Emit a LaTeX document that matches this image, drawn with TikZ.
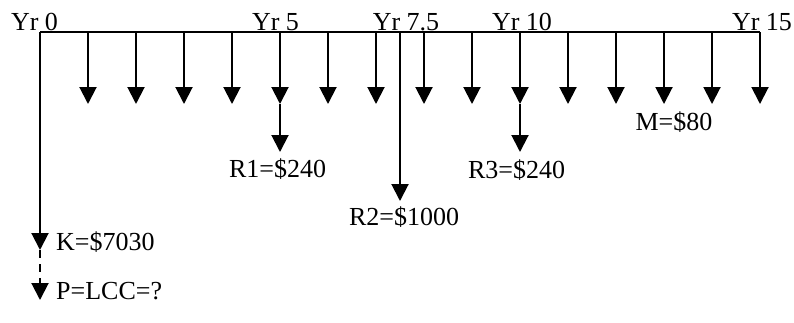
\documentclass[tikz,border=0pt]{standalone}
\usepackage{fontspec}
\setmainfont{Liberation Serif}
\usetikzlibrary{arrows.meta}
\begin{document}
\begin{tikzpicture}[x=1pt,y=-1pt,
  flow/.style={line width=2pt,-{Triangle[width=17pt,length=17pt]}},
  axis/.style={line width=2pt},
  lbl/.style={inner sep=0pt,font=\fontsize{26}{30}\selectfont}]
\useasboundingbox (0,0) rectangle (794,322);

% time axis
\coordinate (y0) at (40,32);
\coordinate (y15) at (760,32);
\draw[axis] (y0) -- (y15);

% yearly maintenance payments
\foreach \k in {1,...,15} {
  \coordinate (top\k) at ({40+48*\k},32);
  \coordinate (m\k) at ({40+48*\k},104);
  \draw[flow] (top\k) -- (m\k);
}

% replacement payments at years 5 and 10
\coordinate (r1) at (280,152);
\coordinate (r3) at (520,152);
\draw[flow] (m5) -- (r1);
\draw[flow] (m10) -- (r3);

% major replacement at year 7.5
\coordinate (top75) at (400,32);
\coordinate (r2) at (400,201);
\draw[flow] (top75) -- (r2);

% initial cost and present value
\coordinate (k) at (40,250);
\coordinate (p) at (40,300);
\draw[flow] (y0) -- (k);
\draw[flow,dash pattern=on 8pt off 6pt] (k) -- (p);

% year labels
\node[lbl,anchor=base] (l0) at (34.5,30) {Yr 0};
\node[lbl,anchor=base] (l5) at (275.5,30) {Yr 5};
\node[lbl,anchor=base] (l75) at (406,30) {Yr 7.5};
\node[lbl,anchor=base] (l10) at (522,30) {Yr 10};
\node[lbl,anchor=base] (l15) at (762,30) {Yr 15};

% payment labels
\node[lbl,anchor=base] (tm) at (674,130) {M=\$80};
\node[lbl,anchor=base] (tr1) at (277.5,177) {R1=\$240};
\node[lbl,anchor=base] (tr3) at (516.5,178) {R3=\$240};
\node[lbl,anchor=base] (tr2) at (404,225) {R2=\$1000};
\node[lbl,anchor=base west] (tk) at (56,250) {K=\$7030};
\node[lbl,anchor=base west] (tp) at (56,299) {P=LCC=?};
\end{tikzpicture}
\end{document}
